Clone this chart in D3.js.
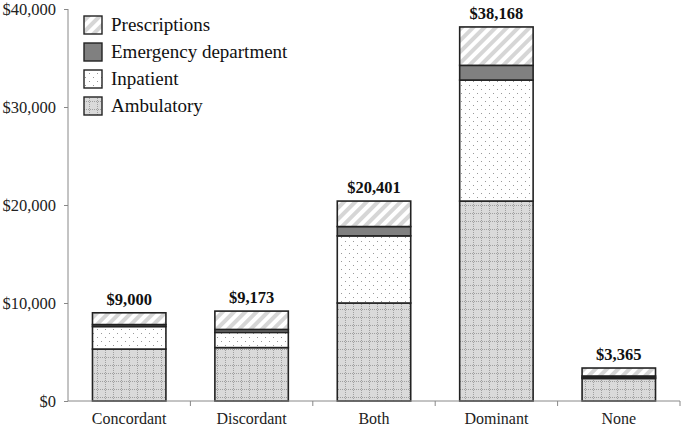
<!DOCTYPE html>
<html><head><meta charset="utf-8">
<script src="https://cdn.jsdelivr.net/npm/d3@7"></script>
<style>body{margin:0;background:#fff}svg{display:block}</style>
</head><body>
<svg id="c" width="685" height="428"></svg>
<script>
const categories = ["Concordant","Discordant","Both","Dominant","None"];
const ambulatory = [5300, 5450, 10000, 20400, 2300];
const inpatient  = [2300, 1550, 6850, 12350, 100];
const emergency  = [200, 300, 950, 1500, 150];
const prescriptions = [1200, 1873, 2601, 3918, 815];
const totals = [9000, 9173, 20401, 38168, 3365];
const yTicks = [0, 10000, 20000, 30000, 40000];
const seriesNames = ["Ambulatory","Inpatient","Emergency department","Prescriptions"];
const legendOrder = ["Prescriptions","Emergency department","Inpatient","Ambulatory"];

const svg = d3.select("#c");
const defs = svg.append("defs");
// Ambulatory: light gray with dotted grid
let p = defs.append("pattern").attr("id","pAmb").attr("patternUnits","userSpaceOnUse").attr("width",8).attr("height",8);
p.append("rect").attr("width",8).attr("height",8).attr("fill","#dadada");
p.append("line").attr("x1",1.5).attr("x2",1.5).attr("y1",0).attr("y2",8).attr("stroke","#a0a0a0").attr("stroke-width",1).attr("stroke-dasharray","1,1");
p.append("line").attr("x1",0).attr("x2",8).attr("y1",5.5).attr("y2",5.5).attr("stroke","#a0a0a0").attr("stroke-width",1).attr("stroke-dasharray","1,1");
// Inpatient: white with dots
p = defs.append("pattern").attr("id","pInp").attr("patternUnits","userSpaceOnUse").attr("width",8).attr("height",8);
p.append("rect").attr("width",8).attr("height",8).attr("fill","#fff");
p.append("rect").attr("x",1).attr("y",1).attr("width",1).attr("height",1).attr("fill","#999");
p.append("rect").attr("x",5).attr("y",5).attr("width",1).attr("height",1).attr("fill","#999");
// Prescriptions: diagonal stripes
p = defs.append("pattern").attr("id","pRx").attr("patternUnits","userSpaceOnUse").attr("width",8).attr("height",8).attr("patternTransform","rotate(45)");
p.append("rect").attr("width",8).attr("height",8).attr("fill","#fff");
p.append("rect").attr("x",0).attr("y",0).attr("width",4).attr("height",8).attr("fill","#d6d6d6");

const fills = {"Ambulatory":"url(#pAmb)","Inpatient":"url(#pInp)","Emergency department":"#808080","Prescriptions":"url(#pRx)"};
const data = categories.map((c,i)=>({cat:c,"Ambulatory":ambulatory[i],"Inpatient":inpatient[i],"Emergency department":emergency[i],"Prescriptions":prescriptions[i],total:totals[i]}));

const x = d3.scaleBand().domain(categories).range([68,680]).paddingInner(0.4).paddingOuter(0.2);
const y = d3.scaleLinear().domain([0,40000]).range([401,9]);

const stack = d3.stack().keys(seriesNames)(data);
const g = svg.append("g");
stack.forEach(layer=>{
  g.selectAll(null).data(layer).enter().append("rect")
    .attr("x",d=>x(d.data.cat)).attr("width",x.bandwidth())
    .attr("y",d=>y(d[1])).attr("height",d=>y(d[0])-y(d[1]))
    .attr("fill",fills[layer.key]).attr("stroke","#222").attr("stroke-width",1.6);
});

// axes
const yAxis = svg.append("g").attr("transform","translate(68,0)")
  .call(d3.axisLeft(y).tickValues(yTicks).tickSize(4).tickFormat(d=>"$"+d3.format(",")(d)));
yAxis.select(".domain").attr("stroke","#888").attr("d","M0,9V401");
yAxis.selectAll(".tick line").attr("stroke","#888");
yAxis.selectAll("text").attr("font-family","Liberation Serif").attr("font-size",16.5).attr("fill","#222").attr("x",-12);

const xAxis = svg.append("g").attr("transform","translate(0,401)");
xAxis.append("line").attr("x1",68).attr("x2",680).attr("stroke","#888");
const bounds = categories.map((c,i)=>x(c)-x.step()*x.paddingInner()/2 + x.step());
xAxis.selectAll(null).data(bounds).enter().append("line")
  .attr("x1",d=>d).attr("x2",d=>d).attr("y1",0).attr("y2",5).attr("stroke","#888");
xAxis.selectAll(null).data(categories).enter().append("text")
  .attr("x",d=>x(d)+x.bandwidth()/2).attr("y",23).attr("text-anchor","middle")
  .attr("font-family","Liberation Serif").attr("font-size",16).attr("fill","#222").text(d=>d);

// totals
svg.selectAll(null).data(data).enter().append("text")
  .attr("x",d=>x(d.cat)+x.bandwidth()/2).attr("y",d=>y(d.total)-8)
  .attr("text-anchor","middle").attr("font-family","Liberation Serif").attr("font-weight","bold")
  .attr("font-size",16.5).attr("fill","#111").text(d=>"$"+d3.format(",")(d.total));

// legend
const lg = svg.append("g");
legendOrder.forEach((k,i)=>{
  const yy = 16 + i*27;
  lg.append("rect").attr("x",84).attr("y",yy).attr("width",18).attr("height",18)
    .attr("fill",fills[k]).attr("stroke","#222").attr("stroke-width",1.4);
  lg.append("text").attr("x",111).attr("y",yy+15).attr("font-family","Liberation Serif")
    .attr("font-size",19).attr("fill","#111").text(k);
});
</script>
</body></html>
